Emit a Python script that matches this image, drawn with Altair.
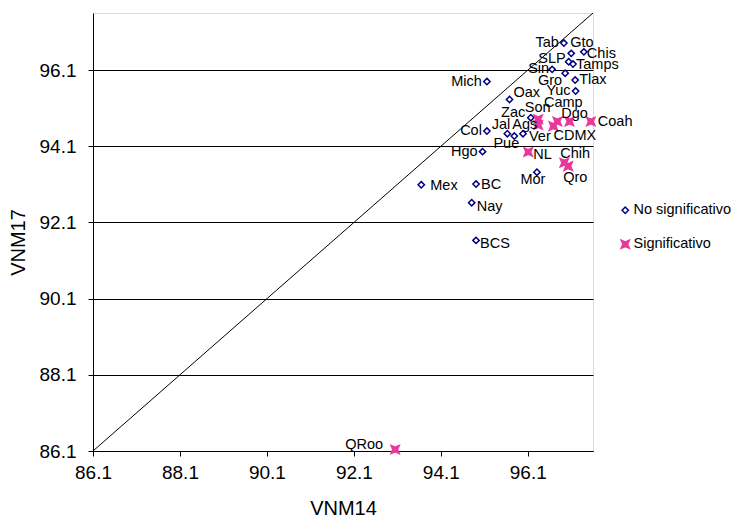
import altair as alt
import pandas as pd

states = ["Tab", "Gto", "Chis", "SLP", "Tamps", "Sin", "Gro", "Tlax", "Mich", "Yuc",
          "Oax", "Son", "Zac", "Ags", "Camp", "Dgo", "CDMX", "Coah", "Col", "Jal",
          "Pue", "Ver", "Hgo", "NL", "Chih", "Qro", "Mor", "Mex", "BC", "Nay",
          "BCS", "QRoo"]
vnm14 = [96.93, 97.10, 97.39, 97.04, 97.14, 96.66, 96.96, 97.19, 95.16, 97.20,
         95.68, 96.17, 96.34, 96.34, 96.78, 97.06, 96.69, 97.55, 95.16, 95.63,
         95.79, 95.99, 95.06, 96.11, 96.94, 97.03, 96.31, 93.65, 94.91, 94.81,
         94.91, 93.05]
vnm17 = [96.81, 96.54, 96.58, 96.32, 96.26, 96.12, 96.02, 95.84, 95.80, 95.55,
         95.33, 94.85, 94.81, 94.66, 94.75, 94.75, 94.63, 94.75, 94.50, 94.43,
         94.37, 94.43, 93.96, 93.95, 93.67, 93.58, 93.42, 93.09, 93.11, 92.62,
         91.63, 86.14]
N, S = "No significativo", "Significativo"
groups = [N, N, N, N, N, N, N, N, N, N,
          N, N, S, S, S, S, S, S, N, N,
          N, N, N, S, S, S, N, N, N, N,
          N, S]

# label placement (pixel offsets from the point, text alignment)
label_dx = [-5, -1, 3, -3, 3, -3, -3, 4, -5, -5,
            4, -6, -13, -1, 6, 5, 0, 7, -5, 3,
            -8, 6, -5, 5, -4, -5, -4, 9, 5, 5,
            4, -12]
label_dy = [0, -10, 2, -3, 1, 0, 8, 0, 0, 0,
            -6, -10, -6, 0, -19, -8, 10, 0, 0, -9,
            8, 3, 0, 3, -9, 12, 8, 1, 1, 4,
            4, -4]
label_align = ["right", "left", "left", "right", "left", "right", "right", "left", "right", "right",
               "left", "left", "right", "right", "center", "center", "left", "left", "right", "right",
               "center", "left", "right", "left", "left", "left", "center", "left", "left", "left",
               "left", "right"]

ticks = [86.1, 88.1, 90.1, 92.1, 94.1, 96.1]
axis_domain = [86.1, 97.6]
group_domain = [N, S]

FONT = "Liberation Sans"
BLUE = "#000080"
PINK = "#E8399B"
XPATH = "M-1.3,-1.3L0,-0.75L1.3,-1.3L0.75,0L1.3,1.3L0,0.75L-1.3,1.3L-0.75,0Z"

df = pd.DataFrame({"state": states, "vnm14": vnm14, "vnm17": vnm17, "group": groups})
diag = pd.DataFrame({"vnm14": axis_domain, "vnm17": axis_domain})

xs = alt.Scale(domain=axis_domain, nice=False, zero=False)
ys = alt.Scale(domain=axis_domain, nice=False, zero=False)

x_axis = alt.Axis(values=ticks, format=".1f", grid=False, title="VNM14",
                  tickSize=5, labelPadding=7, labelFontSize=19, titleFontSize=20,
                  titleFontWeight="normal", labelFont=FONT, titleFont=FONT,
                  domainColor="black", tickColor="black", labelColor="black",
                  titleColor="black", titleX=250, titleY=57, titleBaseline="middle",
                  labelFlush=False)
y_axis = alt.Axis(values=ticks, format=".1f", grid=True, gridColor="black",
                  gridOpacity=1, title="VNM17", tickSize=5, labelPadding=12,
                  labelFontSize=19, titleFontSize=20, titleFontWeight="normal",
                  labelFont=FONT, titleFont=FONT, domainColor="black",
                  tickColor="black", labelColor="black", titleColor="black",
                  titleX=-75, titleY=229, titleAngle=270, titleAlign="center",
                  titleBaseline="middle", labelFlush=False)

legend = alt.Legend(title=None, orient="none", legendX=525, legendY=190,
                    labelFontSize=14.5, labelFont=FONT, labelColor="black",
                    symbolSize=40, symbolStrokeWidth=1.5, rowPadding=19,
                    labelOffset=1)

X = alt.X("vnm14:Q", scale=xs, axis=x_axis)
Y = alt.Y("vnm17:Q", scale=ys, axis=y_axis)

line = alt.Chart(diag).mark_line(color="black", strokeWidth=1, clip=True).encode(
    x=X, y=Y)

points = alt.Chart(df).mark_point(filled=True, strokeWidth=1.5, opacity=1, size=40).encode(
    x=X, y=Y,
    shape=alt.Shape("group:N", scale=alt.Scale(domain=group_domain, range=["diamond", XPATH]), legend=legend),
    fill=alt.Fill("group:N", scale=alt.Scale(domain=group_domain, range=["white", PINK]), legend=legend),
    stroke=alt.Stroke("group:N", scale=alt.Scale(domain=group_domain, range=[BLUE, PINK]), legend=legend),
)

labels = []
for s, dx, dy, a in zip(states, label_dx, label_dy, label_align):
    labels.append(
        alt.Chart(df).transform_filter(alt.datum.state == s).mark_text(
            align=a, baseline="middle", dx=dx, dy=dy, fontSize=14.5, font=FONT,
            color="black").encode(x=X, y=Y, text="state:N")
    )

chart = alt.layer(line, points, *labels).properties(
    width=500, height=438,
    autosize=alt.AutoSizeParams(type="none"),
    padding={"left": 85, "top": 5, "right": 142, "bottom": 66},
).configure_view(stroke="#808080", strokeWidth=1).configure(background="white")

chart.save("out.html", embed_options={"renderer": "svg", "actions": False})
